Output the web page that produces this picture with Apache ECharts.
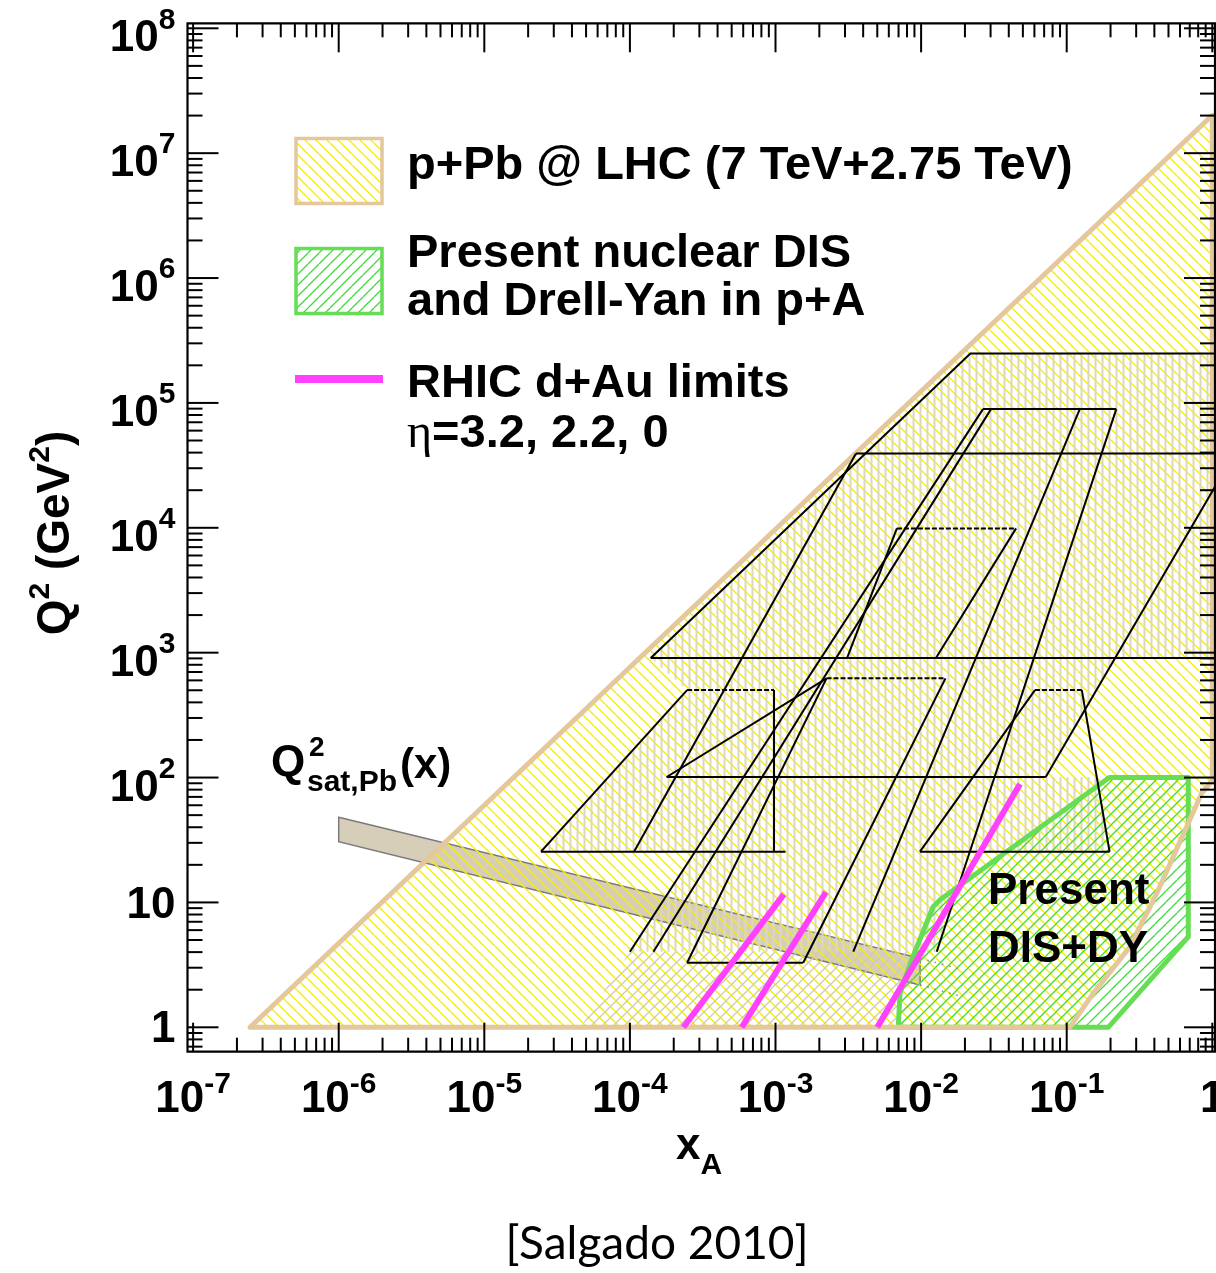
<!DOCTYPE html>
<html>
<head>
<meta charset="utf-8">
<title>x–Q² coverage, p+Pb at the LHC</title>
<script src="https://cdn.jsdelivr.net/npm/echarts@6.0.0/dist/echarts.min.js"></script>
<style>
  html, body { margin: 0; padding: 0; background: #fff; }
  #chart { width: 1216px; height: 1273px; }
</style>
</head>
<body>
<div id="chart"></div>
<script>
// ---- axis ranges (log10 decades) ----
const X_MIN = Math.pow(10, -7.0385), X_MAX = Math.pow(10, 0.0185);
const Y_MIN = Math.pow(10, -0.1954), Y_MAX = Math.pow(10, 8.04);

// ---- tick values and labels ----
const xTickValues = [1e-7, 1e-6, 1e-5, 1e-4, 1e-3, 1e-2, 1e-1, 1];
const xTickLabels = ['10^-7', '10^-6', '10^-5', '10^-4', '10^-3', '10^-2', '10^-1', '1'];
const yTickValues = [1, 10, 1e2, 1e3, 1e4, 1e5, 1e6, 1e7, 1e8];
const yTickLabels = ['1', '10', '10^2', '10^3', '10^4', '10^5', '10^6', '10^7', '10^8'];

// ---- regions [x, Q²] ----
// p+Pb at the LHC: kinematic reach
const lhcRegion = [[2.46e-7, 1], [1.0, 2.01e7], [1.0, 95], [0.845, 74.8], [0.667, 40.4],
                   [0.415, 11.8], [0.272, 4.42], [0.152, 1.87], [0.105, 1]];
// present nuclear DIS and Drell-Yan data
const disDyRegion = [[0.196, 100], [0.684, 100], [0.684, 5.3], [0.193, 1], [0.00697, 1],
                     [0.00716, 1.87], [0.0086, 3.46], [0.0121, 9.24], [0.0135, 10.5]];
// saturation scale of Pb, upper and lower edge of the band
const qsatUpper = [[1e-6, 48], [0.00985, 3.57]];
const qsatLower = [[1e-6, 30.6], [0.00985, 2.18]];
const qsatUpperExt = [[0.00985, 3.57], [0.0194, 2.88]];
const qsatLowerExt = [[0.00985, 2.18], [0.0194, 1.75]];
// RHIC d+Au limits, eta = 3.2, 2.2, 0
const rhicLines = [
  [[2.33e-4, 1], [1.14e-3, 11.6]],
  [[5.86e-4, 1], [2.22e-3, 12.1]],
  [[5.0e-3, 1], [0.0478, 88.7]]
];
// detector acceptances (union, vertically hatched)
const acceptanceArea = [[1.39e-4, 906], [0.0218, 2.49e5], [1.2, 2.49e5], [1.2, 906], [0.215, 906],
                        [0.0718, 101], [0.161, 101], [0.197, 25.5], [0.0217, 25.5], [0.0128, 4.03],
                        [1.0e-4, 4.03], [2.80e-4, 25.5], [2.45e-5, 25.5], [2.47e-4, 502]];
const lowQ2Area = [[1.0e-4, 4.03], [0.0128, 4.03], [8.63e-3, 1], [4.58e-5, 1]];
// detector acceptance outlines
const acceptanceEdges = [
  [[1.39e-4, 906], [0.0218, 2.49e5], [1.2, 2.49e5]],
  [[1.39e-4, 906], [1.2, 906]],
  [[3.57e-3, 3.94e4], [1.2, 3.94e4]],
  [[0.0266, 8.92e4], [0.219, 8.92e4]],
  [[1.0e-4, 4.03], [0.0266, 8.92e4]],
  [[1.45e-4, 4.03], [0.0302, 8.92e4]],
  [[0.0128, 4.03], [0.219, 8.92e4]],
  [[3.42e-3, 4.03], [0.123, 8.92e4]],
  [[3.57e-3, 3.94e4], [1.067e-4, 25.5]],
  [[2.45e-5, 25.5], [2.47e-4, 502]],
  [[9.77e-4, 502], [9.77e-4, 25.5]],
  [[2.45e-5, 25.5], [1.17e-3, 25.5]],
  [[2.47e-4, 3.29], [1.55e-3, 3.29]],
  [[2.47e-4, 3.29], [2.24e-3, 623]],
  [[1.55e-3, 3.29], [0.0147, 623]],
  [[1.79e-4, 101], [2.24e-3, 623]],
  [[1.79e-4, 101], [0.0718, 101]],
  [[9.82e-3, 25.5], [0.0605, 502]],
  [[0.127, 502], [0.197, 25.5]],
  [[9.82e-3, 25.5], [0.197, 25.5]],
  [[1.06, 2.2e4], [0.0718, 101]],
  [[6.82e-3, 9.89e3], [3.10e-3, 906]],
  [[0.0449, 9.89e3], [0.01265, 906]]
];
const acceptanceDashed = [
  [[6.82e-3, 9.89e3], [0.0449, 9.89e3]],
  [[2.24e-3, 623], [0.0147, 623]],
  [[2.47e-4, 502], [9.77e-4, 502]],
  [[0.0605, 502], [0.127, 502]]
];

// ---- colours ----
const BEIGE = '#e4c89b', GREEN = '#66dd55', MAGENTA = '#ff40ff';
const FONT = '"Liberation Sans", Arial, Helvetica, sans-serif';

// ---- hatch patterns ----
function diagonalHatch(size, color, width, forward) {
  const c = document.createElement('canvas');
  c.width = size; c.height = size;
  const g = c.getContext('2d');
  g.strokeStyle = color; g.lineWidth = width;
  g.beginPath();
  for (const o of [-size, 0, size]) {
    if (forward) { g.moveTo(o, size); g.lineTo(o + size, 0); }
    else { g.moveTo(o, 0); g.lineTo(o + size, size); }
  }
  g.stroke();
  return { image: c, repeat: 'repeat' };
}
function verticalHatch(size, color, width) {
  const c = document.createElement('canvas');
  c.width = size; c.height = size;
  const g = c.getContext('2d');
  g.fillStyle = color;
  g.fillRect((size - width) / 2, 0, width, size);
  return { image: c, repeat: 'repeat' };
}
const yellowHatch = diagonalHatch(11, '#f6ee00', 1.4, false);
const greenHatch = diagonalHatch(11, '#3ed93a', 1.3, true);
const greyHatch = diagonalHatch(11, '#cfcab3', 1.3, true);
const stripeHatch = verticalHatch(7, '#dcd7c1', 2);

// ---- series helpers ----
function areaSeries(points, style, z) {
  return {
    type: 'custom', coordinateSystem: 'cartesian2d', clip: true, silent: true, z: z,
    data: [points[0]],
    renderItem: function (params, api) {
      return { type: 'polygon', shape: { points: points.map(p => api.coord(p)) }, style: Object.assign({}, style) };
    }
  };
}
function lineSeries(lines, style, z) {
  return {
    type: 'custom', coordinateSystem: 'cartesian2d', clip: true, silent: true, z: z,
    data: [lines[0][0]],
    renderItem: function (params, api) {
      return {
        type: 'group',
        children: lines.map(l => ({
          type: 'polyline',
          shape: { points: l.map(p => api.coord(p)) },
          style: Object.assign({ fill: 'none' }, style)
        }))
      };
    }
  };
}

function minorTicks(lo, hi) {
  const out = [];
  for (let e = Math.floor(Math.log10(lo)); e <= Math.ceil(Math.log10(hi)); e++) {
    for (let k = 2; k <= 9; k++) {
      const v = k * Math.pow(10, e);
      if (v > lo && v < hi) out.push(v);
    }
  }
  return out;
}
function richText(s) {
  const i = s.indexOf('^');
  return i < 0 ? '{b|' + s + '}' : '{b|' + s.slice(0, i) + '}{s|' + s.slice(i + 1) + '}';
}
// exponent raised through bottom padding (raise = padding / 2)
function tickRich(raise) {
  return {
    b: { fontSize: 44, fontWeight: 'bold', fontFamily: FONT, lineHeight: 50, fill: '#000' },
    s: { fontSize: 30, fontWeight: 'bold', fontFamily: FONT, lineHeight: 50, padding: [0, 0, 2 * raise, 0], fill: '#000' }
  };
}
const xTickRich = tickRich(15);
const yTickRich = tickRich(19);

// frame, ticks on all four sides, tick labels
function renderFrame(params, api) {
  const lb = api.coord([X_MIN, Y_MIN]);
  const rt = api.coord([X_MAX, Y_MAX]);
  const left = lb[0], bottom = lb[1], right = rt[0], top = rt[1];
  const kids = [];
  const seg = (a, b, c, d) => kids.push({ type: 'line', shape: { x1: a, y1: b, x2: c, y2: d }, style: { stroke: '#000', lineWidth: 2 } });
  kids.push({ type: 'rect', shape: { x: left, y: top, width: right - left, height: bottom - top }, style: { fill: 'none', stroke: '#000', lineWidth: 2.2 } });
  xTickValues.forEach(v => { const x = api.coord([v, Y_MIN])[0]; seg(x, bottom, x, bottom - 29); seg(x, top, x, top + 29); });
  minorTicks(X_MIN, X_MAX).forEach(v => { const x = api.coord([v, Y_MIN])[0]; seg(x, bottom, x, bottom - 14); seg(x, top, x, top + 14); });
  yTickValues.forEach(v => { const y = api.coord([X_MIN, v])[1]; seg(left, y, left + 31, y); seg(right, y, right - 31, y); });
  minorTicks(Y_MIN, Y_MAX).forEach(v => { const y = api.coord([X_MIN, v])[1]; seg(left, y, left + 15, y); seg(right, y, right - 15, y); });
  xTickValues.forEach((v, i) => {
    const x = api.coord([v, Y_MIN])[0];
    kids.push({ type: 'text', x: x, y: bottom + 48,
      style: { text: richText(xTickLabels[i]), rich: xTickRich, align: 'center', verticalAlign: 'middle' } });
  });
  yTickValues.forEach((v, i) => {
    const y = api.coord([X_MIN, v])[1];
    const sup = yTickLabels[i].indexOf('^') >= 0;
    kids.push({ type: 'text', x: left - 12, y: y + (sup ? 11 : 3),
      style: { text: richText(yTickLabels[i]), rich: yTickRich, align: 'right', verticalAlign: 'middle' } });
  });
  return { type: 'group', children: kids };
}

const qsatBand = qsatUpper.concat(qsatLower.slice().reverse());

const series = [
  areaSeries(qsatBand, { fill: '#d6ceb9', stroke: '#7a7a7a', lineWidth: 1.5 }, 1),
  areaSeries(lhcRegion, { fill: yellowHatch }, 2),
  areaSeries(acceptanceArea, { fill: stripeHatch }, 3),
  areaSeries(lowQ2Area, { fill: greyHatch }, 3),
  areaSeries(disDyRegion, { fill: greenHatch, stroke: GREEN, lineWidth: 5, lineJoin: 'round' }, 4),
  areaSeries(lhcRegion, { fill: 'none', stroke: BEIGE, lineWidth: 5, lineJoin: 'round' }, 5),
  lineSeries(acceptanceEdges, { stroke: '#000', lineWidth: 2 }, 6),
  lineSeries(acceptanceDashed, { stroke: '#000', lineWidth: 2, lineDash: [5, 2] }, 6),
  lineSeries([qsatUpperExt, qsatLowerExt], { stroke: '#8a8a8a', lineWidth: 1.5, lineDash: [1.5, 6] }, 6),
  lineSeries(rhicLines, { stroke: MAGENTA, lineWidth: 6, lineCap: 'butt' }, 7),
  {
    type: 'custom', coordinateSystem: 'cartesian2d', clip: false, silent: true, z: 9,
    data: [[1e-3, 10]],
    renderItem: renderFrame
  }
];

function txt(x, y, text, size, extra) {
  return {
    type: 'text', x: x, y: y, silent: true, z: 20,
    style: Object.assign({ text: text, font: 'bold ' + size + 'px ' + FONT, fill: '#000', align: 'left', verticalAlign: 'middle' }, extra || {})
  };
}

const graphics = [
  // legend
  { type: 'rect', z: 20, shape: { x: 296, y: 138.5, width: 86, height: 65 }, style: { fill: yellowHatch, stroke: BEIGE, lineWidth: 3.5 } },
  { type: 'rect', z: 20, shape: { x: 296, y: 248.5, width: 86, height: 65 }, style: { fill: greenHatch, stroke: GREEN, lineWidth: 3.5 } },
  { type: 'line', z: 20, shape: { x1: 295, y1: 379, x2: 383, y2: 379 }, style: { stroke: MAGENTA, lineWidth: 8 } },
  txt(407, 166, 'p+Pb @ LHC (7 TeV+2.75 TeV)', 47),
  txt(407, 254, 'Present nuclear DIS', 47),
  txt(407, 302, 'and Drell-Yan in p+A', 47),
  txt(407, 384, 'RHIC d+Au limits', 47),
  {
    type: 'text', x: 407, y: 434, z: 20, silent: true,
    style: {
      text: '{e|η}{b|=3.2, 2.2, 0}', verticalAlign: 'middle', align: 'left',
      rich: {
        e: { fontSize: 48, fontFamily: '"Liberation Serif", "DejaVu Serif", serif', fill: '#000' },
        b: { fontSize: 47, fontWeight: 'bold', fontFamily: FONT, fill: '#000' }
      }
    }
  },
  // region labels
  txt(988, 892, 'Present', 44),
  txt(988, 950, 'DIS+DY', 44),
  txt(271, 764, 'Q', 44),
  txt(309, 748, '2', 28),
  txt(307, 783, 'sat,Pb', 30),
  txt(400, 766, '(x)', 42),
  // axis titles
  {
    type: 'text', x: 699, y: 1147, z: 20, silent: true,
    style: {
      text: '{b|x}{u|A}', align: 'center', verticalAlign: 'middle',
      rich: {
        b: { fontSize: 44, fontWeight: 'bold', fontFamily: FONT, lineHeight: 50, fill: '#000' },
        u: { fontSize: 30, fontWeight: 'bold', fontFamily: FONT, lineHeight: 50, padding: [38, 0, 0, 0], fill: '#000' }
      }
    }
  },
  {
    type: 'text', x: 56, y: 533, rotation: Math.PI / 2, z: 20, silent: true,
    style: {
      text: '{b|Q}{s|2}{b| (GeV}{s|2}{b|)}', align: 'center', verticalAlign: 'middle',
      rich: {
        b: { fontSize: 46, fontWeight: 'bold', fontFamily: FONT, lineHeight: 50, fill: '#000' },
        s: { fontSize: 30, fontWeight: 'bold', fontFamily: FONT, lineHeight: 50, padding: [0, 0, 30, 0], fill: '#000' }
      }
    }
  },
  // reference
  {
    type: 'text', x: 657, y: 1244, z: 20, silent: true,
    style: { text: '[Salgado 2010]', font: '46px Lato, "Open Sans", sans-serif', fill: '#000', align: 'center', verticalAlign: 'middle' }
  }
];

const chart = echarts.init(document.getElementById('chart'), null, { renderer: 'canvas' });
chart.setOption({
  animation: false,
  backgroundColor: '#fff',
  grid: { left: 187.5, top: 23.3, width: 1027.5, height: 1028.4, containLabel: false, outerBoundsMode: 'none' },
  xAxis: { type: 'log', logBase: 10, min: X_MIN, max: X_MAX, show: false },
  yAxis: { type: 'log', logBase: 10, min: Y_MIN, max: Y_MAX, show: false },
  series: series,
  graphic: { elements: graphics }
});
</script>
</body>
</html>
